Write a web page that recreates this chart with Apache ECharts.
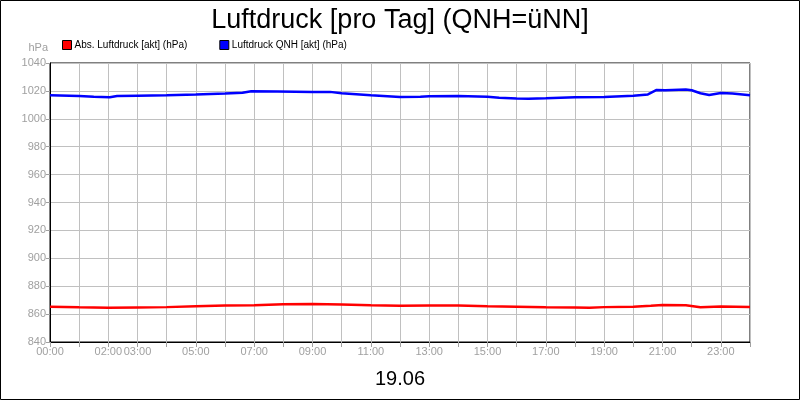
<!DOCTYPE html>
<html>
<head>
<meta charset="utf-8">
<script src="https://cdn.jsdelivr.net/npm/echarts@6/dist/echarts.min.js"></script>
<style>
  html, body { margin: 0; padding: 0; background: #fff; }
  #chart { width: 800px; height: 400px; }
</style>
</head>
<body>
<div id="chart"></div>
<script>
// Stunden (0..24) und Werte
const qnhHours = [0, 1, 1.5, 2.05, 2.3, 3, 4, 5, 6, 6.6, 6.9, 7.8, 9, 9.6, 10, 11, 12, 12.7, 13, 14, 15, 15.4, 16, 16.4, 17, 18, 19, 20, 20.5, 20.8, 21.1, 21.8, 22, 22.3, 22.6, 23, 23.4, 24]
const qnhValues = [1016.9, 1016.3, 1015.8, 1015.5, 1016.3, 1016.6, 1016.9, 1017.5, 1018.2, 1018.7, 1019.8, 1019.6, 1019.3, 1019.3, 1018.3, 1016.9, 1015.6, 1015.8, 1016.2, 1016.3, 1015.8, 1015.1, 1014.6, 1014.3, 1014.7, 1015.4, 1015.7, 1016.6, 1017.5, 1020.7, 1020.5, 1021, 1020.5, 1018.3, 1017.1, 1018.5, 1018.1, 1016.9]

const absHours = [0, 1, 2, 3, 4, 5, 6, 7, 8, 9, 10, 11, 12, 13, 14, 15, 16, 17, 18, 18.5, 19, 20, 20.6, 21, 21.8, 22.3, 23, 24]
const absValues = [865.3, 864.9, 864.6, 864.8, 865.0, 865.6, 866.1, 866.4, 867.0, 867.3, 866.9, 866.4, 866.0, 866.2, 866.1, 865.6, 865.3, 864.9, 864.8, 864.6, 865.0, 865.3, 865.9, 866.6, 866.4, 864.9, 865.4, 865.1]

const labeledHours = [0, 2, 3, 5, 7, 9, 11, 13, 15, 17, 19, 21, 23]

const zip = (xs, ys) => xs.map((x, i) => [x, ys[i]])
const pad = n => (n < 10 ? '0' : '') + n + ':00'

const chart = echarts.init(document.getElementById('chart'))
chart.setOption({
    animation: false,
    backgroundColor: '#fff',
    textStyle: { fontFamily: 'Liberation Sans, Arial, sans-serif' },
    title: {
        text: 'Luftdruck [pro Tag] (QNH=üNN]',
        left: 'center',
        top: 2,
        textStyle: { fontSize: 27, fontWeight: 'normal', color: '#000' }
    },
    legend: {
        left: 57,
        top: 35,
        icon: 'rect',
        itemWidth: 9,
        itemHeight: 9,
        itemGap: 32,
        textStyle: { fontSize: 10, color: '#000', padding: [0, 0, 0, -2] },
        itemStyle: { borderColor: '#000', borderWidth: 1 }
    },
    graphic: [{
        type: 'rect',
        shape: { x: 0.5, y: 0.5, width: 799, height: 399 },
        style: { fill: 'none', stroke: '#000', lineWidth: 1 },
        silent: true
    }],
    grid: {
        left: 50, right: 50, top: 63, bottom: 58,
        show: true, borderColor: '#000', borderWidth: 1
    },
    xAxis: {
        type: 'value',
        min: 0, max: 24, interval: 1,
        name: '19.06',
        nameLocation: 'middle',
        nameGap: 27,
        nameTextStyle: { fontSize: 20, color: '#000' },
        axisLine: { lineStyle: { color: '#000' } },
        axisTick: { length: 5, lineStyle: { color: '#a0a0a0' } },
        axisLabel: {
            fontSize: 11,
            fontFamily: 'Liberation Sans Narrow, Liberation Sans, sans-serif',
            color: '#a0a0a0',
            margin: 4,
            showMaxLabel: true,
            formatter: v => labeledHours.includes(v) ? pad(v) : ''
        },
        splitLine: { show: true, lineStyle: { color: '#c0c0c0' } }
    },
    yAxis: {
        type: 'value',
        min: 840, max: 1040, interval: 20,
        name: 'hPa',
        nameLocation: 'end',
        nameGap: 10,
        nameTextStyle: { fontSize: 11, color: '#a0a0a0', align: 'right', padding: [0, 2, 0, 0] },
        axisLine: { show: true, lineStyle: { color: '#000' } },
        axisTick: { show: true, length: 4, lineStyle: { color: '#a0a0a0' } },
        axisLabel: { fontSize: 11, color: '#a0a0a0', margin: 4, formatter: v => String(v) },
        splitLine: { show: true, lineStyle: { color: '#c0c0c0' } }
    },
    series: [
        {
            name: 'Abs. Luftdruck [akt] (hPa)',
            type: 'line',
            data: zip(absHours, absValues),
            showSymbol: false,
            color: '#ff0000',
            lineStyle: { width: 2.5, color: '#ff0000' }
        },
        {
            name: 'Luftdruck QNH [akt] (hPa)',
            type: 'line',
            data: zip(qnhHours, qnhValues),
            showSymbol: false,
            color: '#0000ff',
            lineStyle: { width: 2.5, color: '#0000ff' }
        }
    ]
})
</script>
</body>
</html>
